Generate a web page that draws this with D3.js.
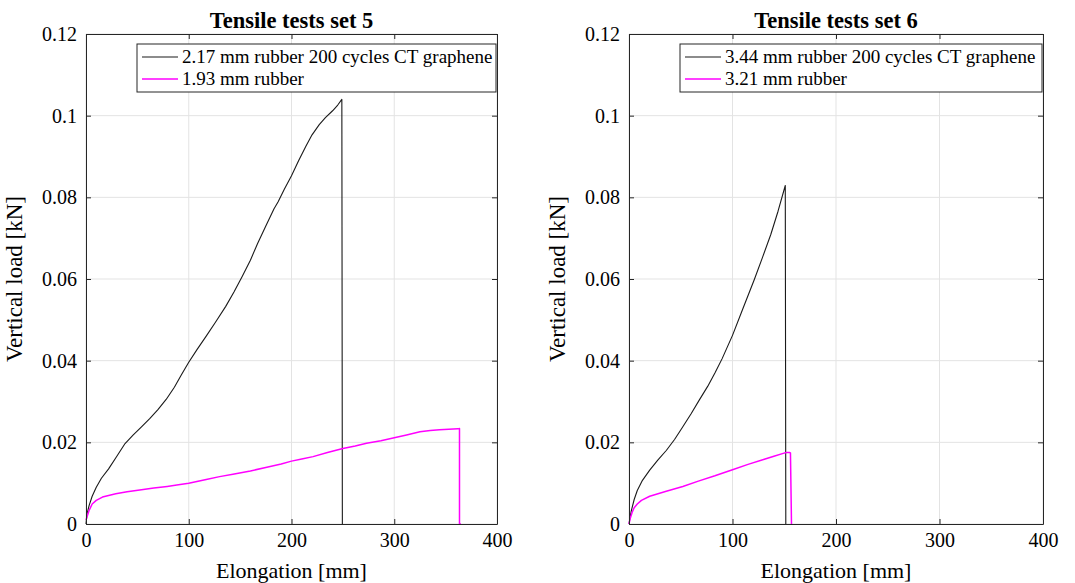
<!DOCTYPE html>
<html>
<head>
<meta charset="utf-8">
<script src="https://cdn.jsdelivr.net/npm/d3@7"></script>
<style>
  body { margin: 0; background: #fff; }
  svg { display: block; }
  text { font-family: "Liberation Serif", "Times New Roman", serif; fill: #000; }
</style>
</head>
<body>
<div id="chart"></div>
<script>
// Tick values shared by both panels
var xTicks = [0, 100, 200, 300, 400];
var yTicks = [0, 0.02, 0.04, 0.06, 0.08, 0.1, 0.12];

// Set 5 (left panel)
var set5Title = "Tensile tests set 5";
var set5Labels = ["2.17 mm rubber 200 cycles CT graphene", "1.93 mm rubber"];
var set5GrapheneX = [0, 1, 3, 6, 10, 15, 22, 30, 38, 46, 54, 62, 70, 78, 86, 93, 100, 108, 117, 126, 136, 144, 152, 160, 167, 175, 183, 187, 193, 200, 207, 214, 220, 227, 233, 240, 245, 249, 249.5];
var set5GrapheneY = [0, 0.0025, 0.0045, 0.0068, 0.009, 0.0112, 0.0135, 0.0166, 0.0197, 0.0218, 0.0238, 0.0258, 0.028, 0.0305, 0.0335, 0.0366, 0.0396, 0.0427, 0.046, 0.0494, 0.0533, 0.0568, 0.0606, 0.0646, 0.0687, 0.073, 0.0772, 0.0789, 0.082, 0.0853, 0.089, 0.0925, 0.0953, 0.0978, 0.0995, 0.1012, 0.1026, 0.104, 0];
var set5RubberX = [0, 1, 3, 6, 10, 16, 22, 29, 40, 54, 66, 79, 90, 100, 117, 130, 143, 160, 176, 190, 200, 210, 221, 235, 250, 262, 273, 287, 300, 312, 325, 335, 344, 353, 362, 363.5, 363.5, 365];
var set5RubberY = [0.001, 0.0018, 0.0033, 0.0049, 0.0058, 0.0066, 0.007, 0.0074, 0.0079, 0.0084, 0.0088, 0.0092, 0.0096, 0.01, 0.0109, 0.0116, 0.0122, 0.013, 0.0139, 0.0147, 0.0154, 0.0159, 0.0165, 0.0175, 0.0185, 0.0191, 0.0198, 0.0204, 0.0211, 0.0218, 0.0226, 0.0229, 0.0231, 0.0232, 0.0233, 0.0234, 0, 0];

// Set 6 (right panel)
var set6Title = "Tensile tests set 6";
var set6Labels = ["3.44 mm rubber 200 cycles CT graphene", "3.21 mm rubber"];
var set6GrapheneX = [0, 2, 5, 8, 13, 20, 28, 36, 44, 52, 60, 68, 76, 83, 90, 100, 110, 121, 129, 137, 144, 151, 151.5];
var set6GrapheneY = [0, 0.003, 0.006, 0.0082, 0.0107, 0.0132, 0.0157, 0.018, 0.0207, 0.0238, 0.027, 0.0304, 0.0337, 0.037, 0.0405, 0.0462, 0.0527, 0.0598, 0.0653, 0.0709, 0.0766, 0.0829, 0];
var set6RubberX = [0, 1, 3, 5, 8, 12, 20, 36, 52, 67, 83, 100, 115, 130, 140, 149, 152, 155, 156, 157, 157.5];
var set6RubberY = [0, 0.0012, 0.0028, 0.004, 0.0049, 0.0058, 0.0068, 0.008, 0.0092, 0.0105, 0.0118, 0.0133, 0.0146, 0.0158, 0.0166, 0.0173, 0.0175, 0.0175, 0.0174, 0, 0];

var lineColours = ["#1a1a1a", "#ff00ff"];
var axisColour = "#262626";
var gridColour = "#e3e3e3";

var svg = d3.select("#chart").append("svg")
  .attr("width", 1075).attr("height", 583);

function zip(xs, ys) {
  return xs.map(function (x, i) { return [x, ys[i]]; });
}

// Draws one MATLAB-style panel; left/right are the pixel edges of the plot box
function drawPanel(left, right, title, labels, series) {
  var top = 34, bottom = 524;
  var x = d3.scaleLinear().domain([0, 400]).range([left, right]);
  var y = d3.scaleLinear().domain([0, 0.12]).range([bottom, top]);
  var g = svg.append("g");

  // grid
  g.selectAll(".gx").data(xTicks).enter().append("line")
    .attr("x1", d => x(d)).attr("x2", d => x(d))
    .attr("y1", top).attr("y2", bottom)
    .attr("stroke", gridColour).attr("stroke-width", 1);
  g.selectAll(".gy").data(yTicks).enter().append("line")
    .attr("x1", left).attr("x2", right)
    .attr("y1", d => y(d)).attr("y2", d => y(d))
    .attr("stroke", gridColour).attr("stroke-width", 1);

  // data lines
  var line = d3.line().x(d => x(d[0])).y(d => y(d[1]));
  series.forEach(function (s, i) {
    g.append("path").datum(s)
      .attr("d", line)
      .attr("fill", "none")
      .attr("stroke", lineColours[i])
      .attr("stroke-width", i == 0 ? 1.1 : 1.5)
      .attr("stroke-linejoin", "round");
  });

  // axes: ticks pointing inwards, box on all sides
  var tl = 5;
  g.append("g").attr("transform", "translate(0," + bottom + ")")
    .call(d3.axisBottom(x).tickValues(xTicks).tickSizeInner(-tl).tickSizeOuter(0).tickPadding(9).tickFormat(d3.format("d")));
  g.append("g").attr("transform", "translate(0," + top + ")")
    .call(d3.axisTop(x).tickValues(xTicks).tickSizeInner(-tl).tickSizeOuter(0).tickFormat(""));
  g.append("g").attr("transform", "translate(" + left + ",0)")
    .call(d3.axisLeft(y).tickValues(yTicks).tickSizeInner(-tl).tickSizeOuter(0).tickPadding(9).tickFormat(d => d === 0 ? "0" : d3.format("")(+d.toFixed(2))));
  g.append("g").attr("transform", "translate(" + right + ",0)")
    .call(d3.axisRight(y).tickValues(yTicks).tickSizeInner(-tl).tickSizeOuter(0).tickFormat(""));
  g.selectAll(".domain").attr("stroke", axisColour);
  g.selectAll(".tick line").attr("stroke", axisColour);
  g.selectAll(".tick text")
    .style("font-family", "'Liberation Serif', 'Times New Roman', serif")
    .style("font-size", "20px").attr("fill", "#000");

  // title and axis labels
  g.append("text").text(title)
    .attr("x", (left + right) / 2).attr("y", 28)
    .attr("text-anchor", "middle")
    .style("font-size", "22.5px").style("font-weight", "bold");
  g.append("text").text("Elongation [mm]")
    .attr("x", (left + right) / 2).attr("y", 578)
    .attr("text-anchor", "middle")
    .style("font-size", "22px");
  g.append("text").text("Vertical load [kN]")
    .attr("transform", "translate(" + (left - 64) + "," + ((top + bottom) / 2) + ") rotate(-90)")
    .attr("text-anchor", "middle")
    .style("font-size", "23px");

  // legend (northeast)
  var lx = left + 51, ly = 44, lw = right - 1 - lx, lh = 48;
  var lg = g.append("g");
  lg.append("rect").attr("x", lx).attr("y", ly).attr("width", lw).attr("height", lh)
    .attr("fill", "#fff").attr("stroke", axisColour).attr("stroke-width", 1);
  labels.forEach(function (lab, i) {
    var ry = ly + 13 + i * 22;
    lg.append("line").attr("x1", lx + 5).attr("x2", lx + 41)
      .attr("y1", ry).attr("y2", ry)
      .attr("stroke", lineColours[i]).attr("stroke-width", i == 0 ? 1.1 : 1.5);
    lg.append("text").text(lab)
      .attr("x", lx + 45).attr("y", ry + 6)
      .style("font-size", "19px");
  });
}

drawPanel(86, 497, set5Title, set5Labels, [zip(set5GrapheneX, set5GrapheneY), zip(set5RubberX, set5RubberY)]);
drawPanel(629, 1043, set6Title, set6Labels, [zip(set6GrapheneX, set6GrapheneY), zip(set6RubberX, set6RubberY)]);
</script>
</body>
</html>
